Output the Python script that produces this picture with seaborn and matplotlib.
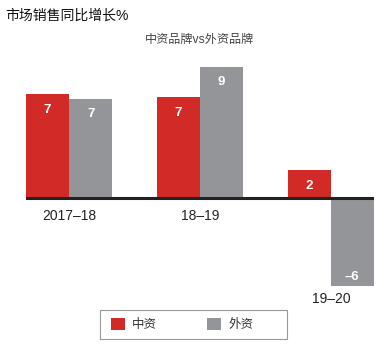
import pandas as pd
import matplotlib.pyplot as plt
import seaborn as sns
from matplotlib.patches import Patch, Rectangle

# 数据（从图上读出的估计值，标签取整数）
periods = ['2017–18', '18–19', '19–20']
domestic = [7.1, 6.9, 1.9]    # 中资
foreign = [6.8, 9.0, -6.0]    # 外资
series_names = ['中资', '外资']

RED = '#D22B27'
GRAY = '#939598'

sns.set_theme(style='white')
plt.rcParams['font.family'] = ['Liberation Sans', 'Noto Sans CJK SC', 'DejaVu Sans']
plt.rcParams['axes.unicode_minus'] = False

df = pd.DataFrame({
    'period': periods * 2,
    'series': [series_names[0]] * 3 + [series_names[1]] * 3,
    'value': domestic + foreign,
})

fig = plt.figure(figsize=(3.87, 3.47), dpi=100)
ax = fig.add_axes([26 / 387, 1 - 290 / 347, 348 / 387, 230 / 347])

sns.barplot(data=df, x='period', y='value', hue='series', order=periods,
            hue_order=series_names, palette=[RED, GRAY], width=0.66,
            saturation=1, edgecolor='none', linewidth=0, ax=ax, legend=False)

ax.set_xlim(-0.33, 2.33)
ax.set_ylim(-6.3, 9.45)
ax.axhline(0, color='#222222', linewidth=2.2, zorder=5)

# 柱内数值
for cont in ax.containers:
    for bar in cont:
        v = bar.get_height()
        txt = f'{round(v):d}'.replace('-', '–')
        x = bar.get_x() + bar.get_width() / 2
        off = -11 if v > 0 else 6.5
        ax.annotate(txt, (x, v), xytext=(0, off), textcoords='offset points',
                    ha='center', va='center', color='white', fontsize=9.5,
                    fontweight='bold')

# 类别标签
label_y = [-1.25, -1.25, -6.9]
for i, (p, y) in enumerate(zip(periods, label_y)):
    ax.text(i, y, p, ha='center', va='center', fontsize=10, color='#222222',
            clip_on=False)

ax.set_xticks([])
ax.set_yticks([])
ax.set_xlabel('')
ax.set_ylabel('')
for s in ax.spines.values():
    s.set_visible(False)

fig.text(5 / 387, 1 - 16 / 347, '市场销售同比增长%', fontsize=10, color='#111111',
         ha='left', va='center')
fig.text(200 / 387, 1 - 40 / 347, '中资品牌vs外资品牌', fontsize=8.7, color='#444444',
         ha='center', va='center')

# 图例
handles = [Patch(facecolor=RED, edgecolor='none'), Patch(facecolor=GRAY, edgecolor='none')]
leg = fig.legend(handles, series_names, loc='center left', ncol=2,
                 bbox_to_anchor=(111 / 387, 1 - 324.5 / 347),
                 bbox_transform=fig.transFigure, fontsize=9, frameon=False,
                 handlelength=1.1, handleheight=1.1, handletextpad=0.6,
                 columnspacing=4.0, borderpad=0, borderaxespad=0)
for t in leg.get_texts():
    t.set_color('#333333')
fig.add_artist(Rectangle((100 / 387, 1 - 339 / 347), 187 / 387, 29 / 347,
                         transform=fig.transFigure, fill=False,
                         edgecolor='#999999', linewidth=0.8))

fig.savefig('out.png', dpi=100)
